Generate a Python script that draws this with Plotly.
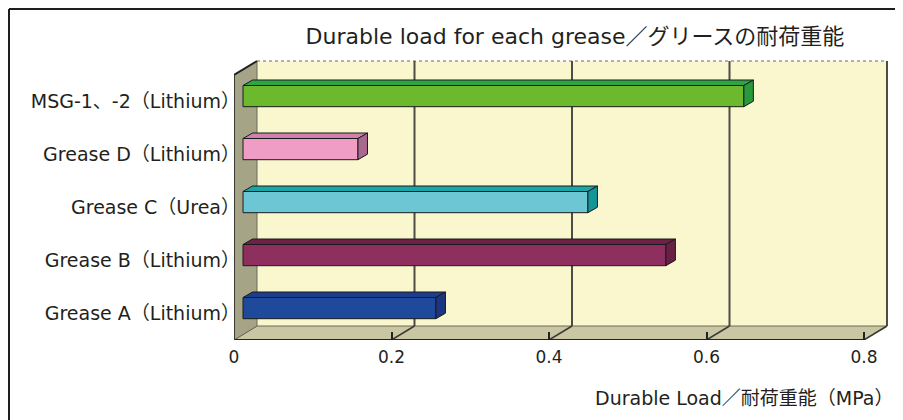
import plotly.graph_objects as go

# ---------------- data ----------------
CATEGORIES = ["Grease A（Lithium）", "Grease B（Lithium）", "Grease C（Urea）",
              "Grease D（Lithium）", "MSG-1、-2（Lithium）"]
VALUES = [0.245, 0.537, 0.438, 0.146, 0.636]
FRONT_COLORS = ["#1f4a9c", "#8f2f5f", "#6cc6d4", "#ef9dc5", "#6cb92e"]
TOP_COLORS = ["#1b3f8e", "#6e2147", "#1aa5a6", "#cf82ad", "#2ea544"]
END_COLORS = ["#1c3582", "#6a1f44", "#149699", "#a8688f", "#279a3c"]
X_TICKS = [0, 0.2, 0.4, 0.6, 0.8]
X_TICK_LABELS = ["0", "0.2", "0.4", "0.6", "0.8"]
TITLE = "Durable load for each grease／グリースの耐荷重能"
X_TITLE = "Durable Load／耐荷重能（MPa）"

# ---------------- geometry ----------------
W, H = 903, 420
OFF = 8                 # page body margin
L = 234 - OFF
T = 60 - OFF
PLOT_BOTTOM = 340 - OFF
PLOT_RIGHT = 890 - OFF
B = H - PLOT_BOTTOM
R = W - PLOT_RIGHT
PX_X = 787.5            # pixels per MPa
PX_Y = 53.0             # pixels per category
PW, PH = W - L - R, H - T - B
x_range = [0, PW / PX_X]
y_range = [-0.5, -0.5 + PH / PX_Y]
n = len(CATEGORIES)
idx = list(range(n))
XMAX = X_TICKS[-1]

dX, dY = 23 / PX_X, 14 / PX_Y          # full depth of the box
f1X, f1Y = 9 / PX_X, 5.4 / PX_Y        # bar front plane offset
bX, bY = 9.5 / PX_X, 5.5 / PX_Y        # bar depth
BW = 0.4                                # bar thickness (category units)

FONT = "'DejaVu Sans', 'Noto Sans CJK JP', sans-serif"
TXT = "#231f20"

fig = go.Figure()

fig.add_trace(go.Bar(x=VALUES, y=idx, orientation="h", width=BW,
                     marker=dict(color=FRONT_COLORS, line=dict(color="#1a1a1a", width=1)),
                     xaxis="x2", yaxis="y2", showlegend=False, hoverinfo="x"))
for i, v in enumerate(VALUES):
    yt, yb = i + BW / 2, i - BW / 2
    fig.add_trace(go.Scatter(
        x=[0, v, v + bX, bX, 0], y=[yt, yt, yt + bY, yt + bY, yt],
        fill="toself", fillcolor=TOP_COLORS[i], mode="lines",
        line=dict(color="#1a1a1a", width=1), xaxis="x2", yaxis="y2",
        showlegend=False, hoverinfo="skip"))
    fig.add_trace(go.Scatter(
        x=[v, v + bX, v + bX, v, v], y=[yb, yb + bY, yt + bY, yt, yb],
        fill="toself", fillcolor=END_COLORS[i], mode="lines",
        line=dict(color="#1a1a1a", width=1), xaxis="x2", yaxis="y2",
        showlegend=False, hoverinfo="skip"))

shapes = []
y0, y1 = -0.5, n - 0.5
shapes.append(dict(type="rect", xref="x", yref="y", x0=dX, x1=XMAX + dX,
                   y0=y0 + dY, y1=y1 + dY, fillcolor="#faf7cf", line=dict(width=0), layer="below"))
shapes.append(dict(type="path", xref="x", yref="y",
                   path=f"M 0,{y0} L {XMAX},{y0} L {XMAX + dX},{y0 + dY} L {dX},{y0 + dY} Z",
                   fillcolor="#c9c7a3", line=dict(color="#6b6a58", width=1), layer="below"))
shapes.append(dict(type="path", xref="x", yref="y",
                   path=f"M 0,{y0} L {dX},{y0 + dY} L {dX},{y1 + dY} L 0,{y1} Z",
                   fillcolor="#a6a487", line=dict(color="#6b6a58", width=1), layer="below"))
shapes.append(dict(type="line", xref="x", yref="y", x0=dX, x1=XMAX + dX, y0=y1 + dY, y1=y1 + dY,
                   line=dict(color="#9a9a90", width=1.5, dash="dot"), layer="below"))
for t in X_TICKS[1:]:
    shapes.append(dict(type="line", xref="x", yref="y", x0=t + dX, x1=t + dX,
                       y0=y0 + dY, y1=y1 + dY, line=dict(color="#4d4d45", width=2), layer="below"))
    shapes.append(dict(type="line", xref="x", yref="y", x0=t, x1=t + dX,
                       y0=y0, y1=y0 + dY, line=dict(color="#3a3a33", width=1.5), layer="below"))
shapes.append(dict(type="line", xref="x", yref="y", x0=0, x1=XMAX, y0=y0, y1=y0,
                   line=dict(color="#222222", width=2)))
shapes.append(dict(type="line", xref="x", yref="y", x0=0, x1=0, y0=y0, y1=y1,
                   line=dict(color="#3a3a33", width=2)))
shapes.append(dict(type="line", xref="x", yref="y", x0=0, x1=dX, y0=y1, y1=y1 + dY,
                   line=dict(color="#222222", width=2)))


def px_x(p):
    return (p - OFF - L) / PW


def px_y(p):
    return (PLOT_BOTTOM - (p - OFF)) / PH


shapes.append(dict(type="line", xref="paper", yref="paper", x0=px_x(9), x1=px_x(960),
                   y0=px_y(9), y1=px_y(9), line=dict(color="#1e1e1e", width=2)))
shapes.append(dict(type="line", xref="paper", yref="paper", x0=px_x(9), x1=px_x(9),
                   y0=px_y(9), y1=px_y(460), line=dict(color="#1e1e1e", width=2)))

fig.update_layout(
    width=W, height=H,
    margin=dict(l=L, r=R, t=T, b=B, pad=0),
    paper_bgcolor="white", plot_bgcolor="rgba(0,0,0,0)",
    font=dict(family=FONT, color=TXT, size=17),
    showlegend=False,
    title=dict(text=TITLE, x=(575 - OFF) / W, xanchor="center", y=1 - (36 - OFF) / H,
               yanchor="middle", font=dict(size=22, family=FONT, color=TXT)),
    xaxis=dict(range=x_range, tickvals=X_TICKS, ticktext=X_TICK_LABELS, showgrid=False,
               zeroline=False, showline=False, ticks="inside", ticklen=8, tickwidth=2,
               tickcolor="#222222", ticklabelstandoff=5, tickfont=dict(size=17)),
    yaxis=dict(range=y_range, tickvals=idx, ticktext=CATEGORIES, showgrid=False,
               zeroline=False, showline=False, ticks="", ticklabelstandoff=-7,
               tickfont=dict(size=19)),
    yaxis3=dict(range=y_range, overlaying="y", anchor="x", side="left",
                tickvals=[k - 0.5 for k in range(n + 1)], ticks="inside", ticklen=7, tickwidth=2,
                tickcolor="#222222", showticklabels=False, showgrid=False, zeroline=False,
                showline=False),
    xaxis2=dict(range=[x_range[0] - f1X, x_range[1] - f1X], overlaying="x", anchor="y2",
                visible=False),
    yaxis2=dict(range=[y_range[0] - f1Y, y_range[1] - f1Y], overlaying="y", anchor="x2",
                visible=False),
    shapes=shapes,
    annotations=[dict(text=X_TITLE, xref="paper", yref="paper", x=px_x(895), y=px_y(398),
                      xanchor="right", yanchor="middle", showarrow=False,
                      font=dict(size=19, family=FONT, color=TXT))],
)

fig.write_html("out.html")
